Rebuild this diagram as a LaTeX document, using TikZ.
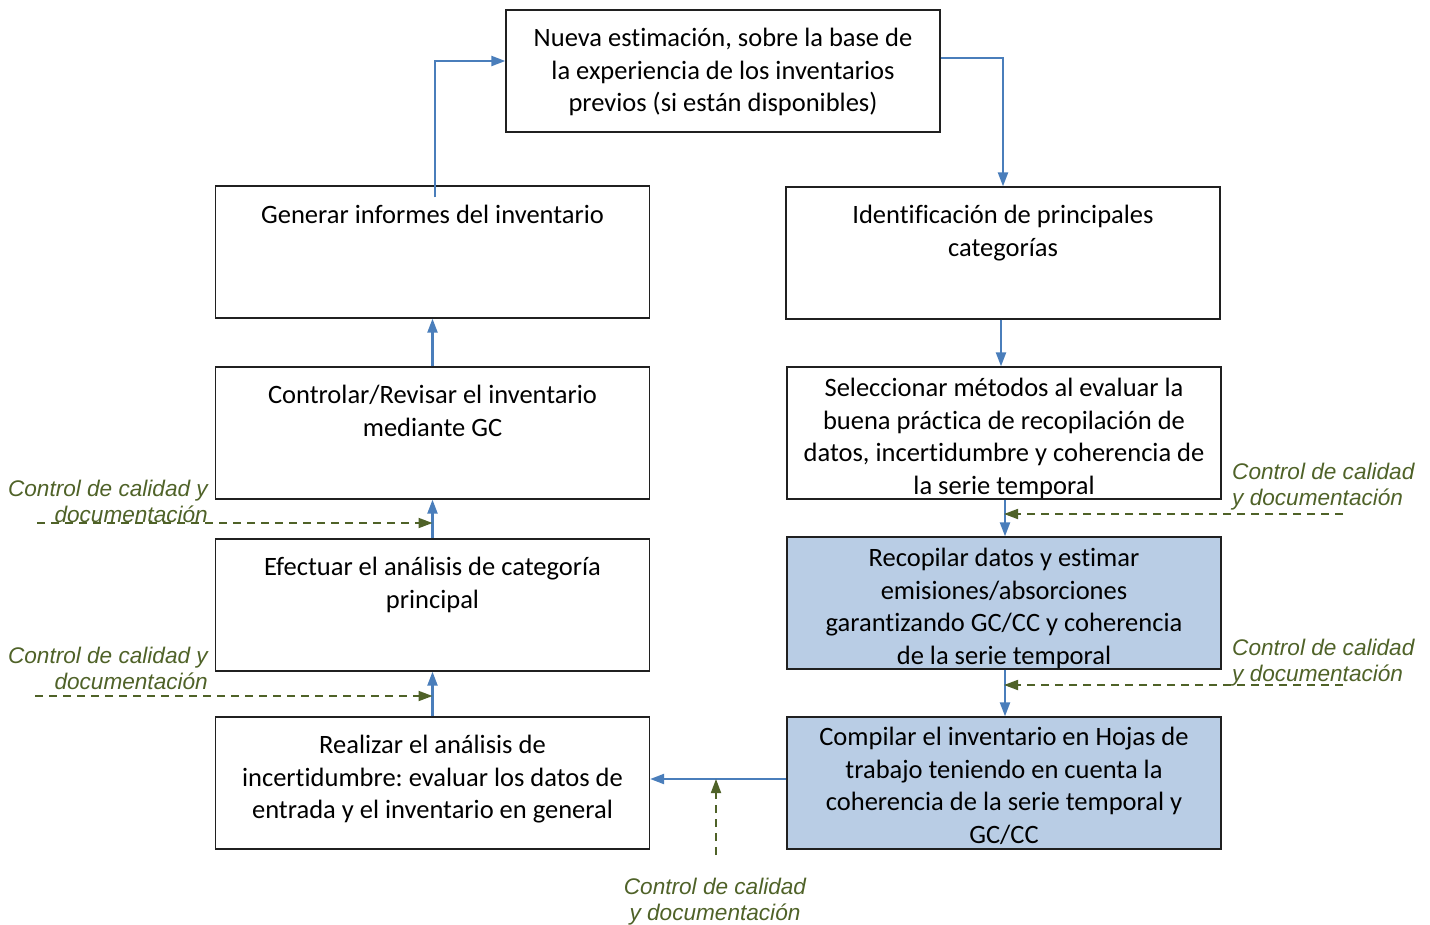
\documentclass[tikz,border=0pt]{standalone}
\usepackage{fontspec}
\setmainfont{Carlito}[Ligatures=NoCommon]
\newfontfamily\notefont{Liberation Sans}
\usetikzlibrary{arrows.meta,calc}
\definecolor{flowblue}{HTML}{4A7EBB}
\definecolor{olive}{HTML}{4F6228}
\definecolor{lightfill}{HTML}{B9CDE5}
\definecolor{boxline}{HTML}{202020}
\frenchspacing
\begin{document}
\begin{tikzpicture}[x=1pt,y=-1pt,
  box/.style={draw=boxline,line width=1.3pt,minimum width=434pt,minimum height=132pt,inner sep=0pt},
  filled/.style={box,fill=lightfill},
  txt/.style={anchor=north,align=center,inner sep=0pt,
    font=\fontsize{26.5}{32.5}\selectfont,execute at begin node={\rule{0pt}{20pt}}},
  note/.style={inner sep=0pt,text=olive,
    font=\notefont\itshape\fontsize{22.6}{26}\selectfont,execute at begin node={\rule{0pt}{18pt}}},
  flow/.style={draw=flowblue,line width=2.2pt,-{Triangle[length=14pt,width=10pt]}},
  qc/.style={draw=olive,line width=1.8pt,dash pattern=on 8pt off 6pt,-{Triangle[length=14pt,width=10pt]}}]
\useasboundingbox (0,0) rectangle (1430,924);

% process boxes
\node[box,minimum height=122pt] (nueva) at (723,71) {};
\node[box] (gen)   at (432.5,252) {};
\node[box] (ident) at (1003,253) {};
\node[box] (ctrl)  at (432.5,433) {};
\node[box] (sel)   at (1004,433) {};
\node[box] (efec)  at (432.5,605) {};
\node[filled] (recop) at (1004,603) {};
\node[box] (real)  at (432.5,783) {};
\node[filled] (comp)  at (1004,783) {};

% box texts
\node[txt] (nuevaT) at (723,28) {Nueva estimación, sobre la base de\\la experiencia de los inventarios\\previos (si están disponibles)};
\node[txt] (genT)   at (432.5,203) {Generar informes del inventario};
\node[txt] (identT) at (1003,205) {Identificación de principales\\categorías};
\node[txt] (ctrlT)  at (432.5,385) {Controlar/Revisar el inventario\\mediante GC};
\node[txt] (selT)   at (1004,378) {Seleccionar métodos al evaluar la\\buena práctica de recopilación de\\datos, incertidumbre y coherencia de\\la serie temporal};
\node[txt] (efecT)  at (432.5,557) {Efectuar el análisis de categoría\\principal};
\node[txt] (recopT) at (1004,548) {Recopilar datos y estimar\\emisiones/absorciones\\garantizando GC/CC y coherencia\\de la serie temporal};
\node[txt] (realT)  at (432.5,735) {Realizar el análisis de\\incertidumbre: evaluar los datos de\\entrada y el inventario en general};
\node[txt] (compT)  at (1004,727) {Compilar el inventario en Hojas de\\trabajo teniendo en cuenta la\\coherencia de la serie temporal y\\GC/CC};

% main flow
\draw[flow] ([xshift=2.5pt,yshift=-12pt]gen.north) |- ([yshift=10pt]nueva.west);
\draw[flow] ([yshift=13pt]nueva.east) -| (ident.north);
\draw[flow] ([xshift=-2pt]ident.south) -- ([xshift=-2pt]ident.south |- sel.north);
\draw[flow] ([xshift=1pt]sel.south) -- ([xshift=1pt]sel.south |- recop.north);
\draw[flow] ([xshift=1pt]recop.south) -- ([xshift=1pt]recop.south |- comp.north);
\coordinate (cw) at ([yshift=4pt]comp.west);
\draw[flow] (cw) -- (cw -| real.east);
\draw[flow] (real.north) -- (efec.south);
\draw[flow] (efec.north) -- (ctrl.south);
\draw[flow] (ctrl.north) -- (gen.south);

% quality control inputs
\coordinate (q1) at (37,523);
\coordinate (q2) at (35,696);
\coordinate (q3) at (1343,514);
\coordinate (q4) at (1343,685);
\coordinate (q5) at (716,855);
\draw[qc] (q1) -- (q1 -| efec.north);
\draw[qc] (q2) -- (q2 -| real.north);
\draw[qc] (q3) -- (q3 -| recop.north);
\draw[qc] (q4) -- (q4 -| comp.north);
\draw[qc] (q5) -- (q5 |- cw);

\node[note,anchor=north east,align=right] (n1) at (208,480) {Control de calidad y\\documentación};
\node[note,anchor=north east,align=right] (n2) at (208,647) {Control de calidad y\\documentación};
\node[note,anchor=north west,align=left] (n3) at (1232,463) {Control de calidad\\y documentación};
\node[note,anchor=north west,align=left] (n4) at (1232,639) {Control de calidad\\y documentación};
\node[note,anchor=north,align=center] (n5) at (715,878) {Control de calidad\\y documentación};
\end{tikzpicture}
\end{document}
